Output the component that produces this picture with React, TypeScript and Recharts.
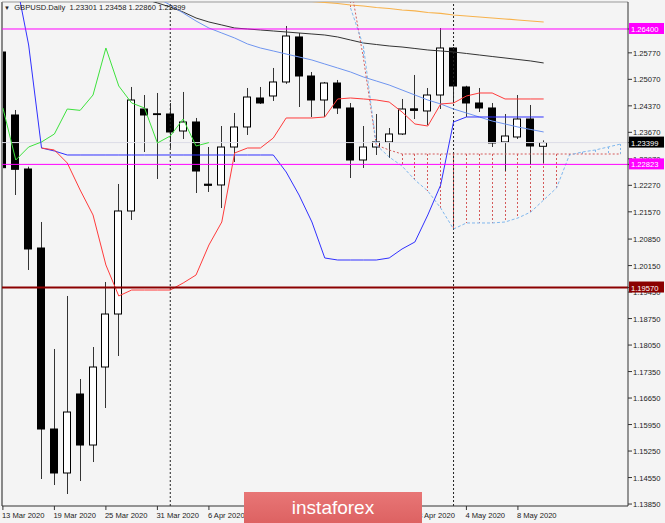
import React from 'react';
import { ComposedChart, Bar, Line, XAxis, YAxis, ReferenceLine } from 'recharts';

// GBPUSD daily, bar 0 = 13 Mar 2020, bar 42 = 12 May 2020
const opens = [1.25792, 1.24128, 1.22701, 1.20614, 1.15832, 1.1467, 1.16757, 1.15409, 1.1747, 1.1887, 1.21592, 1.24286, 1.2416, 1.24154, 1.23705, 1.23943, 1.223, 1.22279, 1.23282, 1.23811, 1.24577, 1.2463, 1.25, 1.26189, 1.25158, 1.24524, 1.24973, 1.24313, 1.22939, 1.23282, 1.23415, 1.23626, 1.2429, 1.24234, 1.24656, 1.25898, 1.24868, 1.24445, 1.24313, 1.23415, 1.23547, 1.24022, 1.23301];
const highs = [1.2586, 1.2426, 1.22762, 1.21301, 1.17946, 1.19346, 1.17153, 1.17998, 1.19716, 1.22305, 1.24868, 1.24656, 1.24709, 1.24445, 1.24736, 1.24049, 1.23282, 1.23837, 1.24181, 1.24841, 1.24868, 1.2537, 1.26479, 1.26294, 1.25264, 1.25, 1.25053, 1.24445, 1.23837, 1.24154, 1.23784, 1.24551, 1.25185, 1.24841, 1.26426, 1.25924, 1.249, 1.24841, 1.24445, 1.24154, 1.24656, 1.24392, 1.23458];
const lows = [1.22622, 1.22014, 1.20033, 1.14511, 1.14352, 1.14115, 1.14458, 1.1496, 1.16387, 1.17761, 1.21354, 1.2315, 1.22437, 1.23256, 1.23494, 1.22067, 1.22094, 1.21671, 1.22886, 1.236, 1.24419, 1.24498, 1.2495, 1.24339, 1.24075, 1.24075, 1.24154, 1.22463, 1.22728, 1.23071, 1.22992, 1.236, 1.24022, 1.23864, 1.24286, 1.24445, 1.24075, 1.24207, 1.23282, 1.22648, 1.23494, 1.22807, 1.2286];
const closes = [1.22736, 1.22693, 1.20588, 1.15832, 1.1467, 1.16281, 1.15409, 1.1747, 1.1887, 1.21592, 1.24524, 1.24128, 1.24145, 1.23679, 1.23943, 1.22648, 1.2227, 1.23282, 1.23811, 1.24603, 1.24445, 1.25, 1.26215, 1.25158, 1.24524, 1.24973, 1.24313, 1.22939, 1.23282, 1.23415, 1.23626, 1.24286, 1.2425, 1.24656, 1.25898, 1.24894, 1.24445, 1.24313, 1.23388, 1.23573, 1.24022, 1.23309, 1.23399];

// ichimoku lines
const tenkan = [null, null, null, 1.23256, 1.23203, 1.2286, 1.22146, 1.21486, 1.20165, 1.19346, 1.19504, 1.19504, 1.19504, 1.19504, 1.19689, 1.19901, 1.20693, 1.21301, 1.23124, 1.23256, 1.23256, 1.2352, 1.24049, 1.24049, 1.24049, 1.24075, 1.24551, 1.24577, 1.24551, 1.24524, 1.24471, 1.24207, 1.2389, 1.23837, 1.24419, 1.24445, 1.2463, 1.24709, 1.24709, 1.24551, 1.24551, 1.24551, 1.24551];
const kijun = [1.28, 1.27721, 1.25977, 1.23256, 1.23177, 1.23071, 1.23071, 1.23071, 1.23071, 1.23071, 1.23071, 1.23071, 1.23071, 1.23071, 1.23071, 1.23071, 1.23071, 1.23071, 1.23071, 1.23071, 1.23071, 1.23071, 1.22622, 1.22014, 1.21301, 1.2035, 1.20297, 1.20297, 1.20297, 1.20297, 1.2035, 1.20588, 1.20773, 1.21486, 1.22278, 1.23943, 1.24075, 1.24075, 1.24075, 1.24075, 1.24075, 1.24075, 1.24075];
const chikou = [1.24313, 1.22939, 1.23282, 1.23415, 1.23626, 1.24286, 1.2425, 1.24656, 1.25898, 1.24894, 1.24445, 1.24313, 1.23388, 1.23573, 1.24022, 1.23309, 1.23399];
const cloudFrom = 27;
const spanA = [1.26955, 1.25951, 1.23335, 1.23018, 1.2278, 1.22411, 1.2212, 1.21671, 1.21116, 1.21275, 1.21275, 1.21275, 1.21301, 1.21407, 1.21565, 1.21882, 1.22199, 1.23071, 1.2315, 1.23203, 1.23282, 1.23362];
const spanB = [1.27562, 1.25634, 1.23335, 1.23203, 1.23097, 1.23097, 1.23097, 1.23097, 1.23097, 1.23097, 1.23097, 1.23097, 1.23097, 1.23097, 1.23097, 1.23097, 1.23097, 1.23097, 1.23097, 1.23097, 1.23097, 1.23097];

// moving averages
const maSlowFrom = 10;
const maSlow = [1.27298, 1.27193, 1.27087, 1.26981, 1.26849, 1.26691, 1.26585, 1.26506, 1.26426, 1.264, 1.26374, 1.26347, 1.26321, 1.26294, 1.26268, 1.26241, 1.26189, 1.26109, 1.2603, 1.2599, 1.25951, 1.25924, 1.25885, 1.25845, 1.25819, 1.25792, 1.25753, 1.25713, 1.25673, 1.25634, 1.25594, 1.25555, 1.25502];
const maFastFrom = 12;
const maFast = [1.27219, 1.27034, 1.26823, 1.26611, 1.26426, 1.26294, 1.26162, 1.26004, 1.25898, 1.25819, 1.25739, 1.2566, 1.25581, 1.25475, 1.2537, 1.25264, 1.25132, 1.25026, 1.2492, 1.24788, 1.24656, 1.24524, 1.24419, 1.24286, 1.24181, 1.24075, 1.23969, 1.2389, 1.23811, 1.23745, 1.23679];
const maLongFrom = 22;
const maLong = [1.27193, 1.27153, 1.27127, 1.271, 1.27074, 1.27034, 1.27008, 1.26968, 1.26942, 1.26902, 1.26876, 1.26836, 1.2681, 1.2677, 1.26743, 1.26717, 1.26691, 1.26664, 1.26638, 1.26611, 1.26585];

const tickBars = [0, 4, 8, 12, 16, 20, 24, 28, 32, 36, 40];
const tickLabels = ['13 Mar 2020', '19 Mar 2020', '25 Mar 2020', '31 Mar 2020', '6 Apr 2020', '10 Apr 2020', '16 Apr 2020', '22 Apr 2020', '28 Apr 2020', '4 May 2020', '8 May 2020'];
const priceTicks = [1.2577, 1.2507, 1.2437, 1.2367, 1.2297, 1.2227, 1.2157, 1.2085, 1.2015, 1.1945, 1.1875, 1.1805, 1.1735, 1.1665, 1.1595, 1.1525, 1.1455, 1.1385];
const monthStarts = [13, 35];
const resistance = 1.264;
const pivot = 1.22823;
const support = 1.1957;
const bid = 1.23399;
const lastBar = 48;

const FONT = '"Liberation Sans", Arial, sans-serif';
const tagColor: Record<string, string> = {
  [resistance]: '#ff00ff',
  [pivot]: '#ff00ff',
  [support]: '#8b0000',
  [bid]: '#000',
};

const at = (arr: number[], from: number, i: number) => {
  const v = arr[i - from];
  return v === undefined ? null : v;
};

const rows = Array.from({ length: lastBar + 1 }, (_, i) => {
  const a = at(spanA, cloudFrom, i);
  const b = at(spanB, cloudFrom, i);
  const has = i < opens.length;
  return {
    i,
    open: has ? opens[i] : null,
    close: has ? closes[i] : null,
    high: has ? highs[i] : null,
    low: has ? lows[i] : null,
    range: has ? [lows[i], highs[i]] : null,
    tenkan: tenkan[i] ?? null,
    kijun: kijun[i] ?? null,
    chikou: chikou[i] ?? null,
    spanA: a,
    spanB: b,
    cloud: a != null && b != null && a !== b ? [Math.min(a, b), Math.max(a, b)] : null,
    maSlow: at(maSlow, maSlowFrom, i),
    maFast: at(maFast, maFastFrom, i),
    maLong: at(maLong, maLongFrom, i),
  };
});

const Candle = (props: any) => {
  const { x, y, width, height, payload } = props;
  if (!payload || payload.open == null) return <g />;
  const { open, close, high, low } = payload;
  const top = Math.min(y, y + height);
  const bot = Math.max(y, y + height);
  const span = high - low || 1e-9;
  const py = (p: number) => top + ((high - p) / span) * (bot - top);
  const cx = Math.round(x + width / 2) + 0.5;
  const yo = py(open);
  const yc = py(close);
  const bTop = Math.min(yo, yc);
  const bBot = Math.max(yo, yc);
  const up = close >= open;
  return (
    <g>
      <line x1={cx} x2={cx} y1={top} y2={bot} stroke="#333" />
      <rect x={cx - 4} y={bTop} width={7} height={Math.max(bBot - bTop, 0.8)} fill={up ? '#fff' : '#000'} stroke="#000" />
    </g>
  );
};

const Hatch = (props: any) => {
  const { x, y, width, height, payload } = props;
  if (!payload || !payload.cloud) return <g />;
  const cx = Math.round(x + width / 2) + 0.5;
  const top = Math.min(y, y + height);
  const bot = Math.max(y, y + height);
  const bull = payload.spanA > payload.spanB;
  return <line x1={cx} x2={cx} y1={top} y2={bot} stroke={bull ? '#80b8ee' : '#d45a5a'} strokeDasharray="2 2" />;
};

const DateTick = (props: any) => {
  const { x, y, payload } = props;
  const k = tickBars.indexOf(payload.value);
  return (
    <text x={x - 1} y={y + 6} fontSize={7.6} fill="#222" fontFamily={FONT} textAnchor="start">
      {tickLabels[k]}
    </text>
  );
};

// price ticks plus the coloured level tags, tags come last so they sit on top
const PriceTick = (props: any) => {
  const { x, y, payload } = props;
  const v = payload.value as number;
  const bg = tagColor[String(v)];
  if (bg) {
    return (
      <g>
        <rect x={x - 4} y={y - 6} width={35} height={11} fill={bg} />
        <text x={x - 2} y={y + 3} fontSize={7.6} fill="#fff" fontFamily={FONT}>
          {v.toFixed(5)}
        </text>
      </g>
    );
  }
  return (
    <text x={x} y={y + 3} fontSize={7.6} fill="#222" fontFamily={FONT}>
      {v.toFixed(5)}
    </text>
  );
};

const xDomain = [-0.07, 48.55];

export default function App() {
  return (
    <div style={{ position: 'fixed', left: 0, top: 0, width: 665, height: 523, background: '#f4f4f4', fontFamily: FONT }}>
      <ComposedChart width={665} height={523} data={rows} margin={{ top: 2, right: 0, bottom: 0, left: 2 }}>
        <XAxis
          type="number"
          dataKey="i"
          domain={xDomain}
          allowDataOverflow
          ticks={tickBars}
          interval={0}
          tick={<DateTick />}
          tickSize={4}
          height={17}
          axisLine={{ stroke: '#333' }}
          tickLine={{ stroke: '#333' }}
        />
        <XAxis xAxisId="h" type="number" dataKey="i" domain={xDomain} allowDataOverflow hide />
        <YAxis
          type="number"
          orientation="right"
          domain={[1.13798, 1.27113]}
          allowDataOverflow
          ticks={[...priceTicks, bid, resistance, pivot, support]}
          interval={0}
          width={37}
          tickSize={4}
          tickMargin={1}
          tick={<PriceTick />}
          axisLine={{ stroke: '#333' }}
          tickLine={{ stroke: '#333' }}
        />

        <ReferenceLine y={1.27113} stroke="#999" />
        <ReferenceLine x={xDomain[0]} stroke="#888" strokeWidth={2} />
        {monthStarts.map((m) => (
          <ReferenceLine key={m} x={m} stroke="#222" strokeDasharray="2 2" />
        ))}
        <ReferenceLine y={bid} stroke="#dcdce6" />

        <Line dataKey="maLong" stroke="#f7b24c" strokeWidth={1.2} dot={false} isAnimationActive={false} />
        <Line dataKey="maSlow" stroke="#333" dot={false} isAnimationActive={false} />
        <Line dataKey="maFast" stroke="#6f95f0" dot={false} isAnimationActive={false} />
        <Line dataKey="spanB" stroke="#d45a5a" strokeDasharray="2 2" dot={false} isAnimationActive={false} />
        <Line dataKey="spanA" stroke="#80b8ee" strokeDasharray="3 2" dot={false} isAnimationActive={false} />
        <Bar xAxisId="h" dataKey="cloud" barSize={2} shape={<Hatch />} isAnimationActive={false} />
        <Line dataKey="chikou" stroke="#3de23d" dot={false} isAnimationActive={false} />
        <Line dataKey="kijun" stroke="#3030ff" dot={false} isAnimationActive={false} />
        <Line dataKey="tenkan" stroke="#ff3b3b" dot={false} isAnimationActive={false} />

        <ReferenceLine y={resistance} stroke="#ff00ff" />
        <ReferenceLine y={pivot} stroke="#ff00ff" />
        <ReferenceLine y={support} stroke="#8b0000" strokeWidth={2} />

        <Bar dataKey="range" barSize={8} shape={<Candle />} isAnimationActive={false} />
      </ComposedChart>

      <div style={{ position: 'absolute', left: 4, top: 3, fontSize: 7.6, color: '#222', whiteSpace: 'pre', lineHeight: '10px' }}>
        <span style={{ fontSize: 6 }}>▼</span>
        {'  GBPUSD.Daily  1.23301 1.23458 1.22860 1.23399'}
      </div>

      <div
        style={{
          position: 'absolute',
          left: 244,
          top: 492,
          width: 178,
          height: 31,
          background: 'linear-gradient(#e87676, #dd6262)',
          color: '#fff',
          fontSize: 19,
          lineHeight: '31px',
          textAlign: 'center',
        }}
      >
        instaforex
      </div>
    </div>
  );
}
